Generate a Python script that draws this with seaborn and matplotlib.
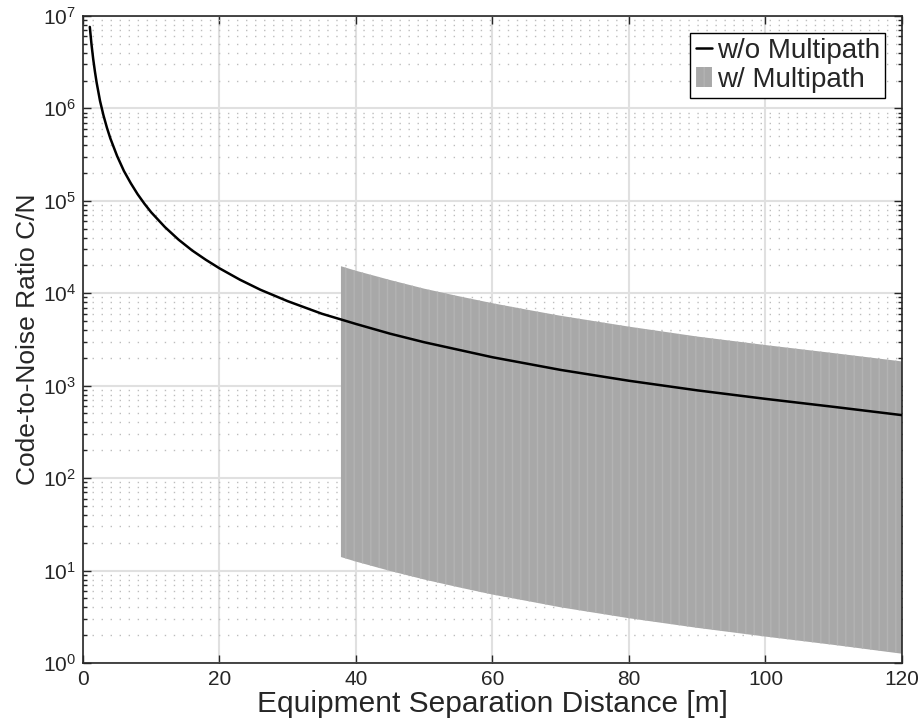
import seaborn as sns
import matplotlib.pyplot as plt
from matplotlib.ticker import NullFormatter
import pandas as pd

# C/N without multipath
dist = [1, 1.25, 1.5, 1.75, 2, 2.5, 3, 3.5, 4, 5, 6, 7, 8, 9, 10, 12, 14, 16, 18, 20,
        23, 26, 30, 35, 40, 45, 50, 60, 70, 80, 90, 100, 110, 120]
cn_los = [7.6e6, 4.9e6, 3.4e6, 2.5e6, 1.9e6, 1.2e6, 8.4e5, 6.2e5, 4.75e5, 3.05e5, 2.1e5,
          1.55e5, 1.18e5, 9.3e4, 7.5e4, 5.2e4, 3.8e4, 2.9e4, 2.3e4, 1.86e4,
          1.4e4, 1.09e4, 8.2e3, 6.0e3, 4.65e3, 3.65e3, 2.95e3, 2.03e3, 1.48e3, 1.13e3,
          8.9e2, 7.2e2, 5.9e2, 4.8e2]

# C/N envelope with multipath
mp_dist = [37.8, 40, 45, 50, 55, 60, 65, 70, 80, 90, 100, 110, 120]
mp_upper = [1.96e4, 1.75e4, 1.39e4, 1.12e4, 9.3e3, 7.8e3, 6.65e3, 5.7e3, 4.35e3, 3.4e3,
            2.75e3, 2.25e3, 1.83e3]
mp_lower = [14, 12.5, 9.9, 8.0, 6.6, 5.5, 4.7, 4.0, 3.05, 2.4, 1.93, 1.57, 1.26]

x_ticks = [0, 20, 40, 60, 80, 100, 120]
y_ticks = [1e0, 1e1, 1e2, 1e3, 1e4, 1e5, 1e6, 1e7]

sns.set_style('white')
plt.rcParams['font.family'] = ['Liberation Sans', 'DejaVu Sans']
plt.rcParams['mathtext.fontset'] = 'custom'
plt.rcParams['mathtext.rm'] = 'Liberation Sans'

los_df = pd.DataFrame({'d': dist, 'cn': cn_los})

f = plt.figure(figsize=(9.2, 7.23), dpi=100)
ax = f.add_axes([0.0902, 0.083, 0.8902, 0.895])

ax.fill_between(mp_dist, mp_lower, mp_upper, facecolor='#a8a8a8', edgecolor='#b3b3b3',
                hatch='||', linewidth=0, label='w/ Multipath', zorder=2)
sns.lineplot(ax=ax, data=los_df, x='d', y='cn', color='black', linewidth=1.8,
             label='w/o Multipath', zorder=3)

ax.set_yscale('log')
ax.set_xticks(x_ticks)
ax.set_yticks(y_ticks)
ax.set_xlim(0, 120)
ax.set_ylim(1, 1e7)
ax.yaxis.set_minor_formatter(NullFormatter())
ax.grid(True, which='major', color='#e0e0e0', linestyle='-', linewidth=1.5, zorder=0)
ax.grid(True, which='minor', axis='y', color='#bdbdbd', linestyle=(0, (1, 5.5)), linewidth=1.0, zorder=0)
ax.set_axisbelow(True)
ax.tick_params(which='both', direction='in', top=True, right=True, left=True, bottom=True,
               labelsize=15, color='#262626', labelcolor='#262626')
ax.tick_params(which='major', length=6, width=1, pad=5)
ax.tick_params(which='minor', length=3, width=1)
for s in ax.spines.values():
    s.set_color('#262626')
    s.set_linewidth(1.2)

ax.set_xlabel('Equipment Separation Distance [m]', fontsize=21.5, color='#262626', labelpad=1)
ax.set_ylabel('Code-to-Noise Ratio C/N', fontsize=19, color='#262626', labelpad=2)

h, l = ax.get_legend_handles_labels()
order = [l.index('w/o Multipath'), l.index('w/ Multipath')]
leg = ax.legend([h[i] for i in order], [l[i] for i in order], loc='upper right',
                fontsize=20, frameon=True, fancybox=False, edgecolor='black',
                borderpad=0.2, handlelength=0.6, handletextpad=0.15, labelspacing=0.1,
                borderaxespad=0.6)
leg.get_frame().set_linewidth(1.0)
leg.get_frame().set_alpha(1)

f.savefig('out.png', dpi=100)
